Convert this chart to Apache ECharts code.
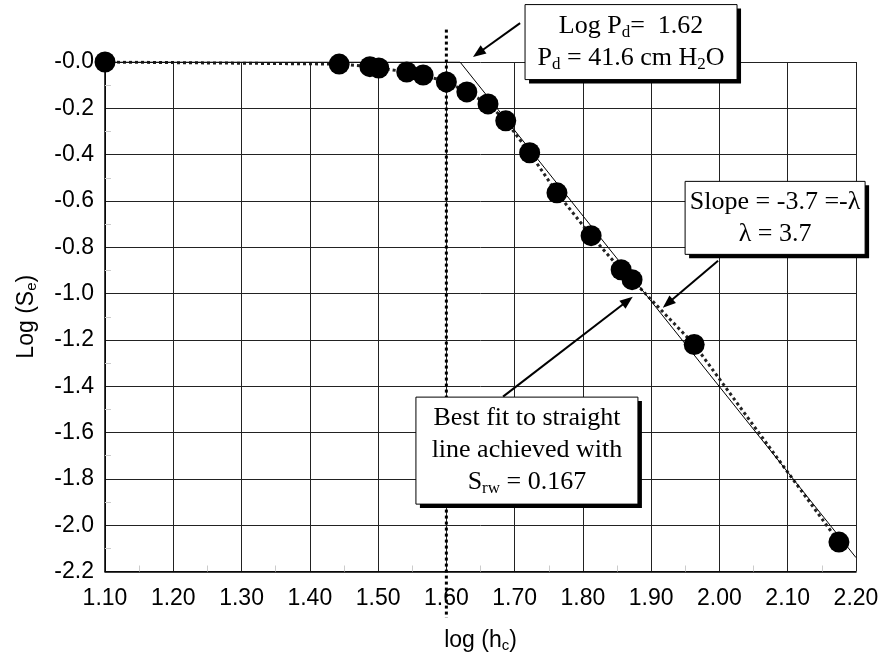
<!DOCTYPE html>
<html><head><meta charset="utf-8">
<script src="https://cdn.jsdelivr.net/npm/echarts@6/dist/echarts.min.js"></script>
<style>html,body{margin:0;padding:0;background:#fff}#c{width:884px;height:658px}</style>
</head><body><div id="c"></div>
<script>
// ---- data ----
const logHc = [1.10, 1.443, 1.488, 1.501, 1.542, 1.566, 1.600, 1.630, 1.661, 1.687, 1.722, 1.762, 1.812, 1.856, 1.872, 1.963, 2.175];
const logSe = [0.0, -0.009, -0.020, -0.026, -0.043, -0.056, -0.086, -0.129, -0.181, -0.254, -0.392, -0.565, -0.750, -0.897, -0.940, -1.220, -2.073];
const modelX = [1.10, 1.62, 2.20];
const modelY = [0.0, 0.0, -2.14];
const pdLineX = [1.60, 1.60];
const pdLineY = [0.14, -2.40];
const xAxisMin = 1.10, xAxisMax = 2.20, xAxisStep = 0.10;
const yAxisMin = -2.2, yAxisMax = 0.0, yAxisStep = 0.2;

// annotations (data space)
const boxPdText = '{n|Log P}{s|d}{n|=  1.62}\n{n|P}{s|d}{n| = 41.6 cm H}{s|2}{n|O}';
const boxSlopeText = '{n|Slope = -3.7 =-λ}\n{n|λ = 3.7}';
const boxFitText = '{n|Best fit to straight}\n{n|line achieved with}\n{n|S}{s|rw}{n| = 0.167}';
const boxPdCenter = [1.8705, 0.086];
const boxSlopeCenter = [2.0815, -0.673];
const boxFitCenter = [1.718, -1.678];
const arrowPd = [[1.708, 0.168], [1.639, 0.022]];
const arrowSlope = [[1.998, -0.858], [1.917, -1.061]];
const arrowFit = [[1.683, -1.445], [1.873, -1.014]];

const zipPts = (xs, ys) => xs.map((x, i) => [x, ys[i]]);
const serif = 'Liberation Serif, Times New Roman, serif';
const sans = 'Liberation Sans, Arial, sans-serif';

const richSerif = {
  n: {fontFamily: serif, fontSize: 26, lineHeight: 32, color: '#000'},
  s: {fontFamily: serif, fontSize: 17, lineHeight: 20, padding: [12, 0, 0, 0], color: '#000'}
};
const richSans = {
  n: {fontFamily: sans, fontSize: 23, lineHeight: 28, color: '#000'},
  s: {fontFamily: sans, fontSize: 15, lineHeight: 18, padding: [10, 0, 0, 0], color: '#000'}
};

const option = {
  animation: false,
  backgroundColor: '#fff',
  grid: {left: 105, right: 28, top: 62, bottom: 86, containLabel: false},
  xAxis: {
    type: 'value', min: xAxisMin, max: xAxisMax, interval: xAxisStep,
    name: '{n|log (h}{s|c}{n|)}', nameLocation: 'middle', nameGap: 55,
    nameTextStyle: {rich: richSans},
    axisLine: {show: true, onZero: false, lineStyle: {color: '#000', width: 1.5}},
    axisTick: {show: false, inside: true},
    minorTick: {show: true, splitNumber: 2, length: 6, lineStyle: {color: '#ccc'}},
    axisLabel: {fontFamily: sans, fontSize: 23, color: '#000', margin: 16,
      formatter: v => v.toFixed(2)},
    splitLine: {show: true, lineStyle: {color: '#222', width: 1}}
  },
  yAxis: {
    type: 'value', min: yAxisMin, max: yAxisMax, interval: yAxisStep,
    name: '{n|Log (S}{s|e}{n|)}', nameLocation: 'middle', nameGap: 64, nameRotate: 90,
    nameTextStyle: {rich: richSans},
    axisLine: {show: true, onZero: false, lineStyle: {color: '#000', width: 1.5}},
    axisTick: {show: false, inside: true},
    minorTick: {show: true, splitNumber: 2, length: 6, lineStyle: {color: '#ccc'}},
    axisLabel: {fontFamily: sans, fontSize: 23, color: '#000', margin: 11,
      formatter: v => Math.abs(v) < 1e-9 ? '-0.0' : v.toFixed(1)},
    splitLine: {show: true, lineStyle: {color: '#222', width: 1}}
  },
  series: [
    {
      type: 'line', name: 'model', data: zipPts(modelX, modelY), showSymbol: false,
      lineStyle: {color: '#000', width: 1}, z: 3, silent: true
    },
    {
      type: 'line', name: 'fit', data: zipPts(logHc, logSe), showSymbol: false,
      lineStyle: {color: '#222', width: 3, type: [3, 3]}, z: 2, silent: true
    },
    {
      type: 'line', name: 'Pd', data: zipPts(pdLineX, pdLineY), showSymbol: false, clip: false,
      lineStyle: {color: '#000', width: 3, type: [3, 3]}, z: 4, silent: true
    },
    {
      type: 'scatter', name: 'data', data: zipPts(logHc, logSe), symbol: 'circle', symbolSize: 21,
      itemStyle: {color: '#000', opacity: 1}, z: 5, clip: false
    }
  ]
};

const chart = echarts.init(document.getElementById('c'), null, {renderer: 'canvas'});
chart.setOption(option);

const px = p => chart.convertToPixel({gridIndex: 0}, p);

function box(center, w, h, text) {
  const c = px(center);
  const x = c[0] - w / 2, y = c[1] - h / 2;
  return {
    type: 'group', z: 100,
    children: [
      {type: 'rect', z: 100, shape: {x: x + 4, y: y + 4, width: w, height: h}, style: {fill: '#000'}},
      {type: 'rect', z: 101, shape: {x: x, y: y, width: w, height: h}, style: {fill: '#fff', stroke: '#000', lineWidth: 1}},
      {type: 'text', z: 102, x: c[0], y: c[1], style: {text: text, rich: richSerif, align: 'center', verticalAlign: 'middle', fill: '#000'}}
    ]
  };
}
function arrow(seg) {
  const a = px(seg[0]), b = px(seg[1]);
  const dx = b[0] - a[0], dy = b[1] - a[1];
  const len = Math.sqrt(dx * dx + dy * dy);
  const ux = dx / len, uy = dy / len, nx = -uy, ny = ux;
  const L = 13, W = 5;
  const bx = b[0] - L * ux, by = b[1] - L * uy;
  return {
    type: 'group', z: 100,
    children: [
      {type: 'line', z: 100, shape: {x1: a[0], y1: a[1], x2: bx + 2 * ux, y2: by + 2 * uy}, style: {stroke: '#000', lineWidth: 2}},
      {type: 'polygon', z: 100, shape: {points: [[b[0], b[1]], [bx + W * nx, by + W * ny], [bx - W * nx, by - W * ny]]}, style: {fill: '#000'}}
    ]
  };
}

chart.setOption({
  graphic: [
    arrow(arrowPd), arrow(arrowSlope), arrow(arrowFit),
    box(boxPdCenter, 212, 75, boxPdText),
    box(boxSlopeCenter, 180, 73, boxSlopeText),
    box(boxFitCenter, 222, 107, boxFitText)
  ]
});
</script>
</body></html>
